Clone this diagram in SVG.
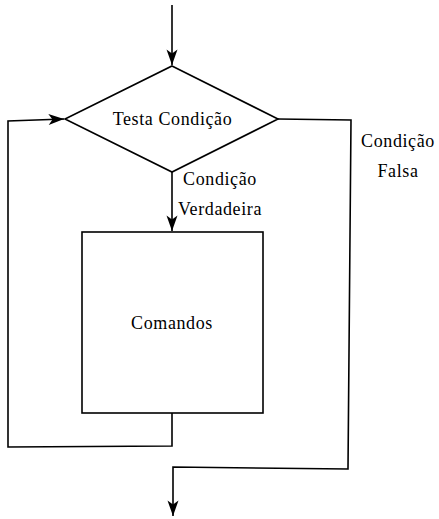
<svg xmlns="http://www.w3.org/2000/svg" width="439" height="519" viewBox="0 0 439 519">
  <style>
    .shape { fill: #ffffff; stroke: #000000; stroke-width: 1.6; stroke-linejoin: miter; }
    .conn { fill: none; stroke: #000000; stroke-width: 1.6; stroke-linejoin: miter; }
    .lbl { font-family: "Liberation Serif", "Times New Roman", serif; font-size: 18px; letter-spacing: 0.6px; fill: #000000; text-anchor: middle; }
  </style>
  <defs>
    <marker id="arr" viewBox="-17 -7 19 14" markerWidth="19" markerHeight="14" refX="0" refY="0" orient="auto" markerUnits="userSpaceOnUse">
      <path d="M0,0 L-15.5,-5.5 L-11.5,0 L-15.5,5.5 Z" fill="#000000"/>
    </marker>
  </defs>

  <g id="connectors">
    <path id="entry" class="conn" d="M172,5 L172,65" marker-end="url(#arr)"/>
    <path id="true-branch" class="conn" d="M172,172 L172,231" marker-end="url(#arr)"/>
    <path id="loop-back" class="conn" d="M172,413 L172,446 L8,447 L8,121 L64,119" marker-end="url(#arr)"/>
    <path id="false-branch" class="conn" d="M278,119 L351,120 L348,469 L173,467 L173,516" marker-end="url(#arr)"/>
  </g>

  <g id="decision">
    <polygon class="shape" points="172,66 278,119 172,172 65,119"/>
    <text class="lbl" x="172.5" y="125">Testa Condição</text>
  </g>

  <g id="commands">
    <rect class="shape" x="82" y="232" width="181" height="181"/>
    <text class="lbl" x="172" y="329">Comandos</text>
  </g>

  <g id="label-true">
    <text class="lbl" x="220" y="185">Condição</text>
    <text class="lbl" x="220" y="215">Verdadeira</text>
  </g>

  <g id="label-false">
    <text class="lbl" x="398" y="147">Condição</text>
    <text class="lbl" x="398" y="177">Falsa</text>
  </g>
</svg>
